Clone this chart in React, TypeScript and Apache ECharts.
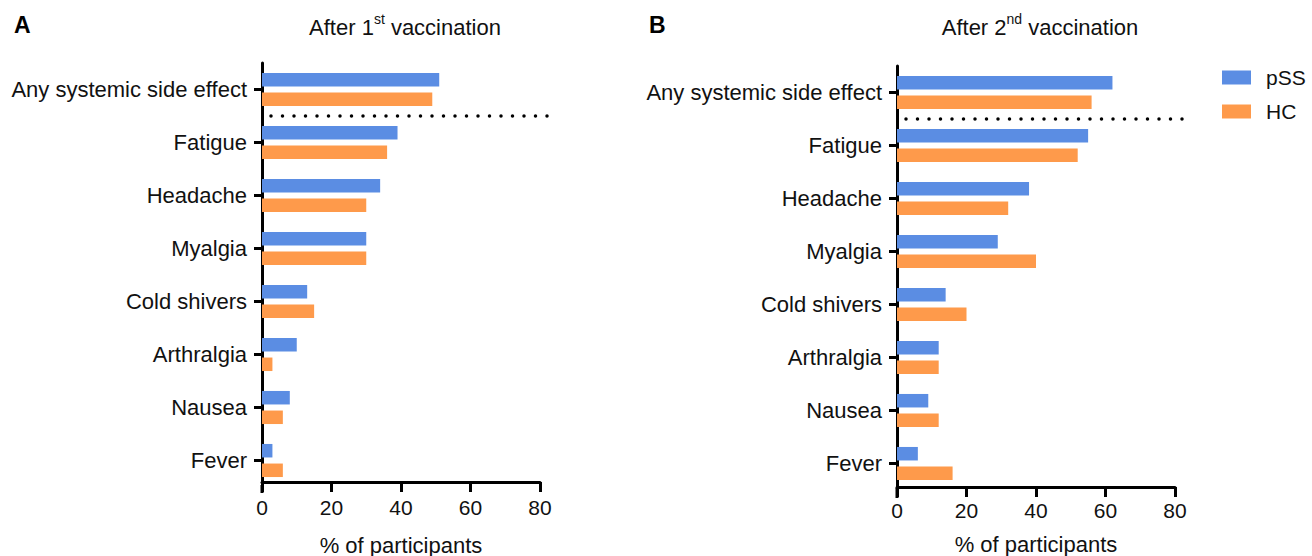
import React, { useEffect, useRef } from "react";
import * as echarts from "echarts";

const categories = [
  "Any systemic side effect",
  "Fatigue",
  "Headache",
  "Myalgia",
  "Cold shivers",
  "Arthralgia",
  "Nausea",
  "Fever",
];
const pssFirst = [51, 39, 34, 30, 13, 10, 8, 3];
const hcFirst = [49, 36, 30, 30, 15, 3, 6, 6];
const pssSecond = [62, 55, 38, 29, 14, 12, 9, 6];
const hcSecond = [56, 52, 32, 40, 20, 12, 12, 16];
const xTicks = { min: 0, max: 80, interval: 20 };

const BLUE = "#5b8de3";
const ORANGE = "#fe9a4b";
const FONT = "Liberation Sans, Arial, Helvetica, sans-serif";

export default function App() {
  const ref = useRef<HTMLDivElement>(null);
  useEffect(() => {
    if (!ref.current) return;
    const chart = echarts.init(ref.current, undefined, { renderer: "svg" });
    const grids = [
      { left: 262, width: 278, top: 63, height: 424, outerBoundsMode: "none", containLabel: false },
      { left: 897, width: 278, top: 66, height: 424, outerBoundsMode: "none", containLabel: false },
    ];
    const xOffsets = [-5, -3];
    const labelMargins = [15, 13];
    const nameGaps = [52, 46];
    const mkX = (i: number) => ({
      type: "value",
      gridIndex: i,
      ...xTicks,
      offset: xOffsets[i],
      axisLine: { show: true, lineStyle: { color: "#000", width: 3 } },
      axisTick: { show: true, length: 10, lineStyle: { color: "#000", width: 3 } },
      splitLine: { show: false },
      axisLabel: { color: "#111", fontSize: 21, fontFamily: FONT, margin: labelMargins[i] },
      name: "% of participants",
      nameLocation: "middle",
      nameGap: nameGaps[i],
      nameTextStyle: { color: "#111", fontSize: 22, lineHeight: 22, fontFamily: FONT },
    });
    const mkY = (i: number) => ({
      type: "category",
      gridIndex: i,
      data: categories,
      inverse: true,
      axisLine: { show: true, lineStyle: { color: "#000", width: 3 } },
      axisTick: { show: true, length: 8, alignWithLabel: true, lineStyle: { color: "#000", width: 3 } },
      axisLabel: { color: "#111", fontSize: 22, fontFamily: FONT, margin: 15 },
    });
    const barCommon = { type: "bar", barWidth: 13.5, barGap: "45%" };
    const rich = {
      a: { fontSize: 22, fontWeight: "normal", fontFamily: FONT, color: "#111", lineHeight: 26, verticalAlign: "bottom" },
      s: { fontSize: 14, fontWeight: "normal", fontFamily: FONT, color: "#111", lineHeight: 26, verticalAlign: "top" },
    };
    const option: any = {
      animation: false,
      textStyle: { fontFamily: FONT },
      title: [
        {
          text: "{a|After 1}{s|st}{a| vaccination}",
          left: 400,
          top: 7,
          textAlign: "center",
          textStyle: { fontWeight: "normal", fontSize: 22, rich },
        },
        {
          text: "{a|After 2}{s|nd}{a| vaccination}",
          left: 1035,
          top: 7,
          textAlign: "center",
          textStyle: { fontWeight: "normal", fontSize: 22, rich },
        },
        { text: "A", left: 9, top: 8, textStyle: { fontSize: 23, fontWeight: "bold", color: "#000", fontFamily: FONT } },
        { text: "B", left: 644, top: 8, textStyle: { fontSize: 23, fontWeight: "bold", color: "#000", fontFamily: FONT } },
      ],
      legend: {
        orient: "vertical",
        left: 1217,
        top: 62,
        itemWidth: 29,
        itemHeight: 14,
        itemGap: 13,
        icon: "rect",
        data: ["pSS", "HC"],
        textStyle: { fontSize: 21, color: "#111", fontFamily: FONT, padding: [0, 0, 0, 10] },
      },
      grid: grids,
      xAxis: [mkX(0), mkX(1)],
      yAxis: [mkY(0), mkY(1)],
      series: [
        { ...barCommon, name: "pSS", xAxisIndex: 0, yAxisIndex: 0, data: pssFirst, itemStyle: { color: BLUE } },
        { ...barCommon, name: "HC", xAxisIndex: 0, yAxisIndex: 0, data: hcFirst, itemStyle: { color: ORANGE } },
        { ...barCommon, name: "pSS", xAxisIndex: 1, yAxisIndex: 1, data: pssSecond, itemStyle: { color: BLUE } },
        { ...barCommon, name: "HC", xAxisIndex: 1, yAxisIndex: 1, data: hcSecond, itemStyle: { color: ORANGE } },
      ],
    };
    chart.setOption(option);

    const graphics: any[] = [];
    [0, 1].forEach((i) => {
      const finder = { xAxisIndex: i, yAxisIndex: i } as any;
      const p0 = chart.convertToPixel(finder, [0, 0]) as number[];
      const p1 = chart.convertToPixel(finder, [xTicks.max, 1]) as number[];
      const ySep = (p0[1] + p1[1]) / 2;
      graphics.push({
        type: "line",
        shape: { x1: p0[0] + 9, y1: ySep, x2: p1[0] + 8, y2: ySep },
        style: { stroke: "#000", lineWidth: 3.5, lineDash: [0, 11.5], lineCap: "round" },
        silent: true,
      });
      const g = grids[i];
      const bottom = g.top + g.height;
      graphics.push({
        type: "line",
        shape: { x1: g.left, y1: bottom - 2, x2: g.left, y2: bottom + xOffsets[i] + 11 },
        style: { stroke: "#000", lineWidth: 3 },
        silent: true,
      });
    });
    chart.setOption({ graphic: graphics });
    return () => chart.dispose();
  }, []);
  return (
    <div
      ref={ref}
      style={{ position: "fixed", left: 0, top: 0, width: 1312, height: 556, background: "#fff" }}
    />
  );
}
